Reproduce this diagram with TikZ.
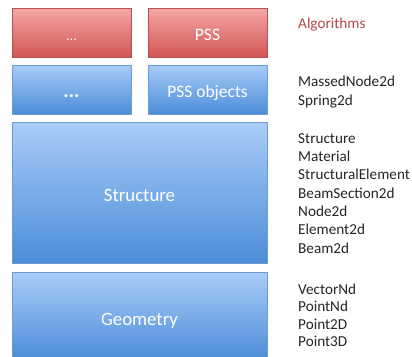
\documentclass[tikz,border=0pt]{standalone}
\usepackage{fontspec}
\setmainfont{Carlito}
\usetikzlibrary{shadows}
\definecolor{redtop}{HTML}{F4A7A6}
\definecolor{redbot}{HTML}{D25654}
\definecolor{redline}{HTML}{B9504D}
\definecolor{bluetop}{HTML}{A9CCF8}
\definecolor{bluebot}{HTML}{4C8DD8}
\definecolor{blueline}{HTML}{6F9CD0}
\definecolor{algred}{HTML}{B5494A}
\begin{document}
\begin{tikzpicture}[x=1pt,y=-1pt,
  redbox/.style={draw=redline,line width=0.6pt,top color=redtop,bottom color=redbot,
    drop shadow={shadow xshift=0.8pt,shadow yshift=-1.2pt,opacity=0.3}},
  bluebox/.style={draw=blueline,line width=0.6pt,top color=bluetop,bottom color=bluebot,
    drop shadow={shadow xshift=0.8pt,shadow yshift=-1.2pt,opacity=0.3}},
  boxtext/.style={text=white,anchor=base,inner sep=0pt,font=\fontsize{17.5}{20}\selectfont},
  bigtext/.style={boxtext,font=\fontsize{18.8}{20}\selectfont},
  lbl/.style={anchor=base west,inner sep=0pt,font=\fontsize{15.2}{18.3}\selectfont,align=left,text=black!85}]
\useasboundingbox[fill=white] (0,0) rectangle (412,356);
% boxes
\path[redbox] (12,8) rectangle (131,57);
\node[boxtext,font=\fontsize{14}{18}\selectfont] (r1) at (71.5,40) {...};
\path[redbox] (148,8) rectangle (267,57);
\node[boxtext] (r2) at (207.5,40) {PSS};
\path[bluebox] (12,65) rectangle (131,114);
\node[boxtext,font=\fontsize{20}{20}\bfseries] (b1) at (71.5,97.7) {...};
\path[bluebox] (148,65) rectangle (267,114);
\node[boxtext] (b2) at (207.5,97.7) {PSS objects};
\path[bluebox] (12,122) rectangle (267,263);
\node[bigtext] (st) at (139.5,201) {Structure};
\path[bluebox] (12,272) rectangle (267,360);
\node[bigtext] (ge) at (139.5,325) {Geometry};
% labels (base anchor = baseline of last line)
\node[lbl,text=algred] (alg) at (298,28.3) {Algorithms};
\node[lbl] (pss) at (298,105) {MassedNode2d\\Spring2d};
\node[lbl] (stl) at (298,253.1) {Structure\\Material\\StructuralElement\\BeamSection2d\\Node2d\\Element2d\\Beam2d};
\node[lbl,font=\fontsize{15.2}{17.6}\selectfont] (gel) at (298,346.8) {VectorNd\\PointNd\\Point2D\\Point3D};
\end{tikzpicture}
\end{document}
